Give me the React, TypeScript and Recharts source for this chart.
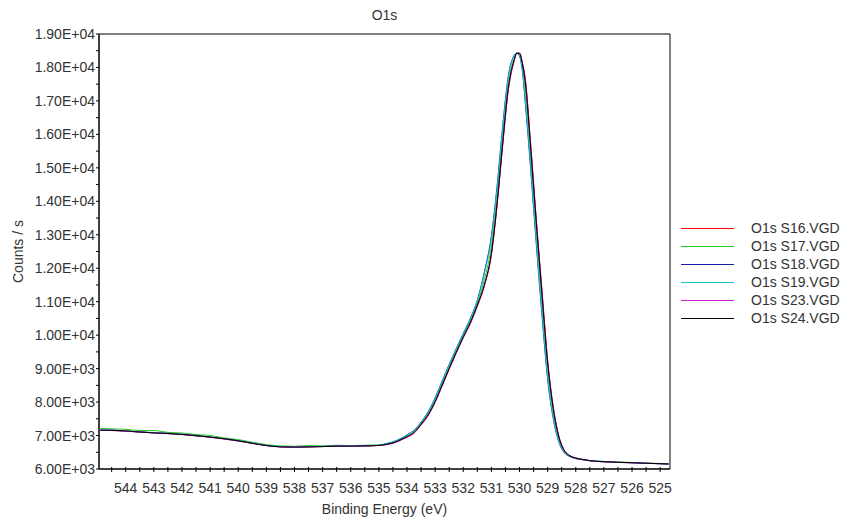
import React from 'react';
import { LineChart, Line, XAxis, YAxis, ReferenceArea, Legend } from 'recharts';

const energies = [
  544.9, 544.5, 544.0, 543.5, 543.0, 542.5, 542.0, 541.5, 541.0, 540.5,
  540.0, 539.5, 539.0, 538.5, 538.0, 537.5, 537.0, 536.5, 536.0, 535.5,
  535.0, 534.75, 534.5, 534.25, 534.0, 533.75, 533.5, 533.25, 533.0, 532.75,
  532.5, 532.25, 532.0, 531.75, 531.5, 531.25, 531.0, 530.8, 530.6, 530.4,
  530.2, 530.1, 530.0, 529.9, 529.8, 529.6, 529.4, 529.2, 529.0, 528.8,
  528.6, 528.4, 528.2, 528.0, 527.75, 527.5, 527.0, 526.5, 526.0, 525.5,
  525.0, 524.7,
];

const s16 = [
  7160, 7150, 7135, 7100, 7085, 7060, 7030, 6995, 6955, 6900,
  6840, 6770, 6705, 6665, 6660, 6660, 6675, 6680, 6690, 6690,
  6705, 6730, 6775, 6855, 6955, 7080, 7330, 7600, 8000, 8490,
  8990, 9470, 9930, 10350, 10870, 11470, 12400, 13850, 15650, 17310,
  18160, 18410, 18430, 18150, 17700, 15680, 13420, 11320, 9250, 7850,
  6980, 6550, 6395, 6330, 6285, 6250, 6220, 6200, 6190, 6170,
  6160, 6150,
];
const s17 = [
  7215, 7200, 7185, 7150, 7150, 7095, 7075, 7030, 7000, 6930,
  6880, 6800, 6730, 6690, 6680, 6700, 6690, 6710, 6700, 6710,
  6720, 6760, 6805, 6890, 7000, 7130, 7370, 7660, 8070, 8560,
  9060, 9530, 9990, 10430, 10960, 11660, 12660, 14110, 15910, 17500,
  18250, 18430, 18400, 18050, 17400, 15350, 13100, 11000, 9000, 7700,
  6900, 6520, 6385, 6325, 6285, 6250, 6225, 6205, 6195, 6175,
  6165, 6155,
];
const s18 = [
  7150, 7165, 7130, 7115, 7080, 7070, 7030, 7005, 6950, 6905,
  6845, 6770, 6705, 6665, 6650, 6670, 6670, 6690, 6685, 6695,
  6705, 6750, 6810, 6900, 7020, 7160, 7400, 7710, 8130, 8630,
  9130, 9600, 10050, 10500, 11050, 11890, 12970, 14440, 16240, 17740,
  18350, 18430, 18340, 17910, 17000, 14910, 12680, 10580, 8680, 7500,
  6800, 6480, 6365, 6310, 6275, 6245, 6215, 6195, 6185, 6170,
  6155, 6150,
];
const s19 = [
  7175, 7150, 7145, 7100, 7095, 7060, 7045, 6990, 6965, 6900,
  6840, 6775, 6700, 6675, 6655, 6660, 6680, 6680, 6700, 6685,
  6715, 6745, 6800, 6895, 7010, 7150, 7390, 7700, 8110, 8610,
  9110, 9580, 10040, 10480, 11030, 11830, 12880, 14350, 16150, 17680,
  18330, 18440, 18360, 17950, 17100, 15020, 12780, 10680, 8750, 7540,
  6820, 6490, 6370, 6315, 6280, 6255, 6225, 6205, 6190, 6175,
  6160, 6150,
];
const s23 = [
  7165, 7155, 7130, 7105, 7075, 7055, 7035, 6990, 6950, 6895,
  6835, 6765, 6700, 6660, 6650, 6665, 6670, 6685, 6680, 6690,
  6700, 6725, 6770, 6850, 6950, 7070, 7310, 7590, 7990, 8480,
  8980, 9460, 9920, 10340, 10860, 11480, 12420, 13880, 15680, 17330,
  18170, 18420, 18430, 18140, 17680, 15650, 13400, 11300, 9230, 7840,
  6970, 6545, 6390, 6325, 6280, 6245, 6215, 6200, 6185, 6170,
  6160, 6150,
];
const s24 = [
  7160, 7155, 7140, 7105, 7080, 7060, 7035, 6995, 6955, 6905,
  6845, 6770, 6700, 6660, 6655, 6660, 6670, 6680, 6685, 6690,
  6705, 6735, 6780, 6865, 6970, 7095, 7340, 7620, 8020, 8510,
  9010, 9490, 9950, 10380, 10900, 11510, 12450, 13920, 15720, 17380,
  18200, 18420, 18420, 18120, 17600, 15550, 13320, 11200, 9170, 7800,
  6950, 6540, 6390, 6325, 6285, 6250, 6220, 6200, 6190, 6170,
  6160, 6150,
];

const seriesKeys = ['s16', 's17', 's18', 's19', 's23', 's24'];
const seriesNames = ['O1s S16.VGD', 'O1s S17.VGD', 'O1s S18.VGD', 'O1s S19.VGD', 'O1s S23.VGD', 'O1s S24.VGD'];
const seriesColors = ['#ff0000', '#22cc22', '#1c1ca8', '#10c8c8', '#cc22cc', '#000000'];
const seriesValues = [s16, s17, s18, s19, s23, s24];

const xTicks = [
  544.5, 544, 543.5, 543, 542.5, 542, 541.5, 541, 540.5, 540,
  539.5, 539, 538.5, 538, 537.5, 537, 536.5, 536, 535.5, 535,
  534.5, 534, 533.5, 533, 532.5, 532, 531.5, 531, 530.5, 530,
  529.5, 529, 528.5, 528, 527.5, 527, 526.5, 526, 525.5, 525,
];
const yTicks = [
  6000, 6500, 7000, 7500, 8000, 8500, 9000, 9500, 10000, 10500,
  11000, 11500, 12000, 12500, 13000, 13500, 14000, 14500, 15000, 15500,
  16000, 16500, 17000, 17500, 18000, 18500, 19000,
];

const title = 'O1s';
const xLabel = 'Binding Energy (eV)';
const yLabel = 'Counts / s';

const data = energies.map((e, i) => {
  const row: Record<string, number> = { energy: e };
  seriesKeys.forEach((k, j) => {
    row[k] = seriesValues[j][i];
  });
  return row;
});

const FONT = "'Liberation Sans', Arial, sans-serif";
const TEXT = '#333333';

const fmtY = (v: number) => {
  if (v % 1000 !== 0) return '';
  const exp = Math.floor(Math.log10(v) + 1e-9);
  const m = v / Math.pow(10, exp);
  return `${m.toFixed(2)}E+${String(exp).padStart(2, '0')}`;
};

const XTick = (props: any) => {
  const { x, y, payload } = props;
  const v = payload.value as number;
  const label = Number.isInteger(v) ? String(v) : '';
  return (
    <g>
      <line x1={x} x2={x} y1={y - 2} y2={y + 3} stroke="#000" strokeWidth={1} />
      {label && (
        <text x={x} y={y + 24} textAnchor="middle" fontSize={14} fill={TEXT} fontFamily={FONT}>
          {label}
        </text>
      )}
    </g>
  );
};

const LegendContent = () => (
  <div style={{ position: 'relative', width: 160, height: 108, fontFamily: FONT }}>
    {seriesNames.map((n, i) => (
      <div key={n} style={{ position: 'absolute', left: 0, top: i * 18, width: 160, height: 18 }}>
        <svg width={54} height={18} style={{ position: 'absolute', left: 0, top: 0 }}>
          <line x1={0} x2={53} y1={9.5} y2={9.5} stroke={seriesColors[i]} strokeWidth={1} />
        </svg>
        <span
          style={{
            position: 'absolute',
            left: 70,
            top: 0,
            lineHeight: '18px',
            fontSize: 14,
            color: TEXT,
            whiteSpace: 'nowrap',
          }}
        >
          {n}
        </span>
      </div>
    ))}
  </div>
);

export default function App() {
  return (
    <div
      style={{
        position: 'absolute',
        left: 0,
        top: 0,
        width: 850,
        height: 524,
        background: '#fff',
        fontFamily: FONT,
      }}
    >
      <div
        style={{
          position: 'absolute',
          left: 0,
          top: 7,
          width: 769,
          textAlign: 'center',
          fontSize: 14,
          color: TEXT,
          lineHeight: '16px',
        }}
      >
        {title}
      </div>
      <LineChart
        width={850}
        height={524}
        data={data}
        margin={{ top: 34, right: 180, bottom: 0, left: 0 }}
      >
        <XAxis
          dataKey="energy"
          type="number"
          domain={[524.65, 544.95]}
          reversed
          allowDataOverflow
          ticks={xTicks}
          interval={0}
          height={55}
          tickSize={0}
          tickMargin={0}
          tickLine={false}
          tick={<XTick />}
          axisLine={{ stroke: '#000' }}
          label={{
            value: xLabel,
            position: 'insideBottom',
            offset: 10,
            style: { fontSize: 14, fill: TEXT, fontFamily: FONT },
          }}
        />
        <YAxis
          type="number"
          domain={[6000, 19000]}
          allowDataOverflow
          ticks={yTicks}
          interval={0}
          width={99}
          tickSize={3}
          tickMargin={1}
          tickFormatter={fmtY}
          tick={{ fontSize: 14, fill: TEXT, fontFamily: FONT }}
          tickLine={{ stroke: '#000' }}
          axisLine={{ stroke: '#000' }}
          label={{
            value: yLabel,
            angle: -90,
            position: 'insideLeft',
            offset: 18,
            style: { textAnchor: 'middle', fontSize: 14, fill: TEXT, fontFamily: FONT },
          }}
        />
        <ReferenceArea
          x1={544.95}
          x2={524.65}
          y1={6000}
          y2={19000}
          fill="none"
          fillOpacity={0}
          stroke="#000"
          strokeWidth={1}
        />
        {seriesKeys.map((k, i) => (
          <Line
            key={k}
            dataKey={k}
            name={seriesNames[i]}
            stroke={seriesColors[i]}
            strokeWidth={1}
            dot={false}
            type="monotone"
            isAnimationActive={false}
          />
        ))}
        <Legend
          layout="horizontal"
          align="center"
          verticalAlign="middle"
          content={<LegendContent />}
          wrapperStyle={{ position: 'absolute', left: 681, top: 219, width: 160, height: 108 }}
        />
      </LineChart>
    </div>
  );
}
